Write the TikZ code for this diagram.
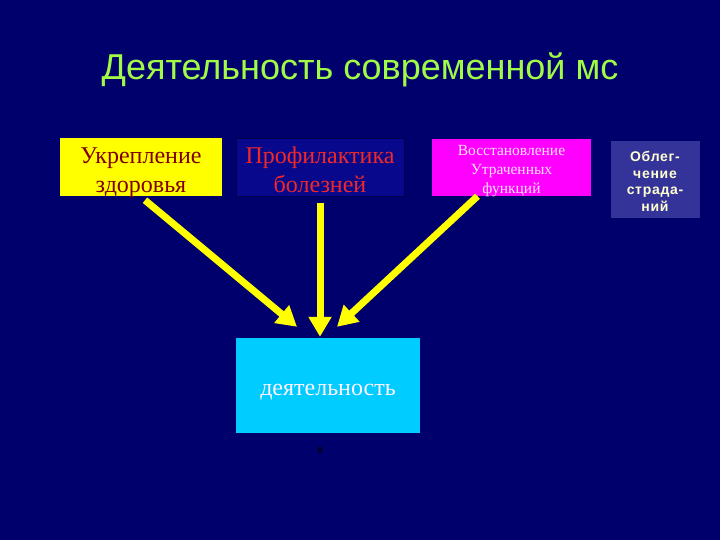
\documentclass[tikz,border=0pt]{standalone}
\usepackage{fontspec}
\setmainfont{Liberation Serif}
\setsansfont{Liberation Sans}
\usetikzlibrary{arrows.meta, positioning, calc}

\begin{document}
\begin{tikzpicture}[x=1pt,y=-1pt,
    box/.style={rectangle, inner sep=0pt},
    boxtext/.style={inner sep=0pt, align=center},
    bigarrow/.style={draw=arrowyellow, line width=7pt, -{Triangle[length=20pt,width=22pt]}}]

% Colors
\definecolor{slidenavy}{RGB}{0,0,108}
\definecolor{titlegreen}{RGB}{160,250,70}
\definecolor{boxyellow}{RGB}{255,255,0}
\definecolor{darkred}{RGB}{128,0,0}
\definecolor{profblue}{RGB}{8,8,140}
\definecolor{profred}{RGB}{240,40,40}
\definecolor{boxmagenta}{RGB}{255,0,255}
\definecolor{palepink}{RGB}{255,225,255}
\definecolor{relblue}{RGB}{51,51,153}
\definecolor{paleyellow}{RGB}{255,255,210}
\definecolor{actcyan}{RGB}{0,204,255}
\definecolor{arrowyellow}{RGB}{255,255,0}

% Background
\fill[slidenavy] (0,0) rectangle (720,540);
\useasboundingbox (0,0) rectangle (720,540);

% Title
\node[font=\sffamily\fontsize{36}{42}\selectfont, text=titlegreen] (title) at (360,70) {Деятельность современной мс};

% Top boxes
\node[box, fill=boxyellow, minimum width=162pt, minimum height=58pt] (ukr) at (141,167) {};
\node[boxtext, text=darkred, font=\fontsize{24}{29}\selectfont] (ukrtext) at ([yshift=-6pt]ukr.center) {Укрепление\\здоровья};

\node[box, fill=profblue, draw=slidenavy!70!black, minimum width=168pt, minimum height=58pt] (prof) at (320,167) {};
\node[boxtext, text=profred, font=\fontsize{24}{29}\selectfont] (proftext) at ([yshift=-3pt]prof.center) {Профилактика\\болезней};

\node[box, fill=boxmagenta, minimum width=159pt, minimum height=57pt] (vost) at (511.5,167.5) {};
\node[boxtext, text=palepink, font=\fontsize{15.5}{19}\selectfont] (vosttext) at ([yshift=-4pt]vost.center) {Восстановление\\Утраченных\\функций};

\node[box, fill=relblue, draw=slidenavy, minimum width=90pt, minimum height=78pt] (obl) at (655,179) {};
\node[boxtext, text=paleyellow, font=\sffamily\bfseries\fontsize{14}{16.5}\selectfont\addfontfeature{LetterSpace=5}] (obltext) at ([yshift=-2.5pt]obl.center) {Облег-\\чение\\страда-\\ний};

% Activity box
\node[box, fill=actcyan, minimum width=184pt, minimum height=95pt] (act) at (328,385.5) {};
\node[boxtext, text=palepink!40!white, font=\fontsize{24}{28}\selectfont] (acttext) at ([yshift=-7pt]act.center) {деятельность};
\node[rectangle, fill=slidenavy!40!black, minimum width=4pt, minimum height=6pt, inner sep=0pt] (mark) at (320,450) {};

% Arrow tips
\coordinate (tipA) at ($(act.north)+(-31,-11)$);
\coordinate (tipB) at ($(act.north)+(-8,-1)$);
\coordinate (tipC) at ($(act.north)+(9,-11)$);

% Arrows
\draw[bigarrow] ([shift={(4,4)}]ukr.south) -- (tipA);
\draw[bigarrow] ([shift={(0,7)}]prof.south) -- (tipB);
\draw[bigarrow] ([shift={(-34,0)}]vost.south) -- (tipC);

\end{tikzpicture}
\end{document}
